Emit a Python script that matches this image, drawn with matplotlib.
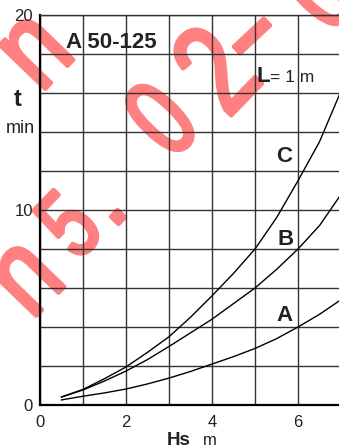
import matplotlib
matplotlib.use("Agg")
import matplotlib.pyplot as plt
from matplotlib.textpath import TextPath
from matplotlib.font_manager import FontProperties
from matplotlib.patches import PathPatch
from matplotlib.transforms import Affine2D, IdentityTransform

plt.rcParams['font.family'] = ['Liberation Sans', 'DejaVu Sans']

# Emptying time t (min) versus suction height Hs (m), pump A 50-125, L = 1 m
hs = [0.5, 1.0, 1.5, 2.0, 2.5, 3.0, 3.5, 4.0, 4.5, 5.0, 5.5, 6.0, 6.5, 7.0]
t_a = [0.26, 0.45, 0.62, 0.82, 1.08, 1.38, 1.72, 2.10, 2.48, 2.90, 3.40, 4.00, 4.65, 5.40]
t_b = [0.41, 0.77, 1.23, 1.74, 2.33, 3.00, 3.70, 4.40, 5.20, 6.00, 6.95, 8.00, 9.20, 10.80]
t_c = [0.41, 0.80, 1.35, 1.95, 2.70, 3.50, 4.50, 5.60, 6.75, 8.00, 9.60, 11.50, 13.50, 16.10]

curve_names = ["A", "B", "C"]
x_labels = [0, 2, 4, 6]
y_labels = [0, 10, 20]

W, H = 339, 448
fig = plt.figure(figsize=(W / 100, H / 100), dpi=100)
fig.patch.set_facecolor("white")


def fx(px):
    return px / W


def fy(py):
    return 1 - py / H


ax = fig.add_axes([fx(40), fy(405), 301 / W, 390 / H])
ax.patch.set_visible(False)
ax.set_xlim(0, 7)
ax.set_ylim(0, 20)

ax.set_xticks(x_labels)
ax.set_xticks([1, 3, 5], minor=True)
ax.set_yticks(y_labels)
ax.set_yticks([2, 4, 6, 8, 12, 14, 16, 18], minor=True)
ax.set_xticklabels([str(v) for v in x_labels])
ax.set_yticklabels([str(v) for v in y_labels])
ax.tick_params(which="both", length=0)
ax.tick_params(axis="x", pad=7, labelsize=12, labelcolor="#222222")
ax.tick_params(axis="y", pad=5, labelsize=12, labelcolor="#222222")
ax.grid(which="both", color="#333333", linewidth=1.0)
ax.set_axisbelow(True)

ax.spines["right"].set_visible(False)
ax.spines["top"].set_color("#333333")
ax.spines["top"].set_linewidth(1.0)
for s in ["left", "bottom"]:
    ax.spines[s].set_color("black")
    ax.spines[s].set_linewidth(1.6)

for ys in (t_a, t_b, t_c):
    ax.plot(hs, ys, color="black", linewidth=1.0, zorder=3)

# curve labels
label_style = dict(fontsize=16, fontweight="bold", ha="right", va="baseline", color="#222222")
for name, lx, ly in zip(curve_names, [5.87, 5.9, 5.87], [4.3, 8.2, 12.45]):
    ax.text(lx, ly, name, **label_style)

# title and conditions
fig.text(fx(66), fy(47.5), "A 50-125", fontsize=16, fontweight="bold", ha="left", va="baseline", color="#222222")
fig.text(fx(257), fy(81.5), "L", fontsize=16, fontweight="bold", ha="left", va="baseline", color="#222222")
fig.text(fx(270), fy(81.5), "= 1 m", fontsize=12.5, ha="left", va="baseline", color="#222222")

# axis titles
fig.text(fx(17.5), fy(106), "t", fontsize=17, fontweight="bold", ha="center", va="baseline", color="#222222")
fig.text(fx(35), fy(133), "min", fontsize=13, ha="right", va="baseline", color="#222222")
fig.text(fx(167), fy(444.5), "Hs", fontsize=13.5, fontweight="bold", ha="left", va="baseline", color="#222222")
fig.text(fx(203), fy(444.5), "m", fontsize=12, ha="left", va="baseline", color="#222222")

# pink stamp behind the grid, one glyph at a time, outlined for a rounded pen look
stamp_font = FontProperties(family="Liberation Sans", weight="normal")


def stamp_char(ch, cx, cy, em=118, sx=0.75, angle=46):
    tp = TextPath((0, 0), ch, size=1, prop=stamp_font)
    ext = tp.get_extents()
    ox, oy = (ext.x0 + ext.x1) / 2, (ext.y0 + ext.y1) / 2
    tr = (Affine2D().translate(-ox, -oy).scale(em * sx, em)
          .rotate_deg(angle).translate(cx, H - cy))
    patch = PathPatch(tr.transform_path(tp), facecolor="#ff8080",
                      edgecolor="#ff8080", linewidth=3.0, joinstyle="round",
                      capstyle="round", transform=IdentityTransform(), zorder=-1)
    fig.add_artist(patch)


stamp_char("n", 36, 52, em=120, sx=0.8)
stamp_char("n", 27, 279, em=120, sx=0.8)
stamp_char("5", 68, 224, em=98, sx=0.75)
stamp_char(".", 118, 217, em=100, sx=1.0)
stamp_char("0", 160, 118, em=112, sx=0.72)
stamp_char("2", 214, 68, em=130, sx=0.75)
stamp_char("-", 252, 36, em=120, sx=1.4, angle=43)
stamp_char("0", 318, -8, em=112, sx=0.72)

fig.savefig("out.png", dpi=100, facecolor="white")
